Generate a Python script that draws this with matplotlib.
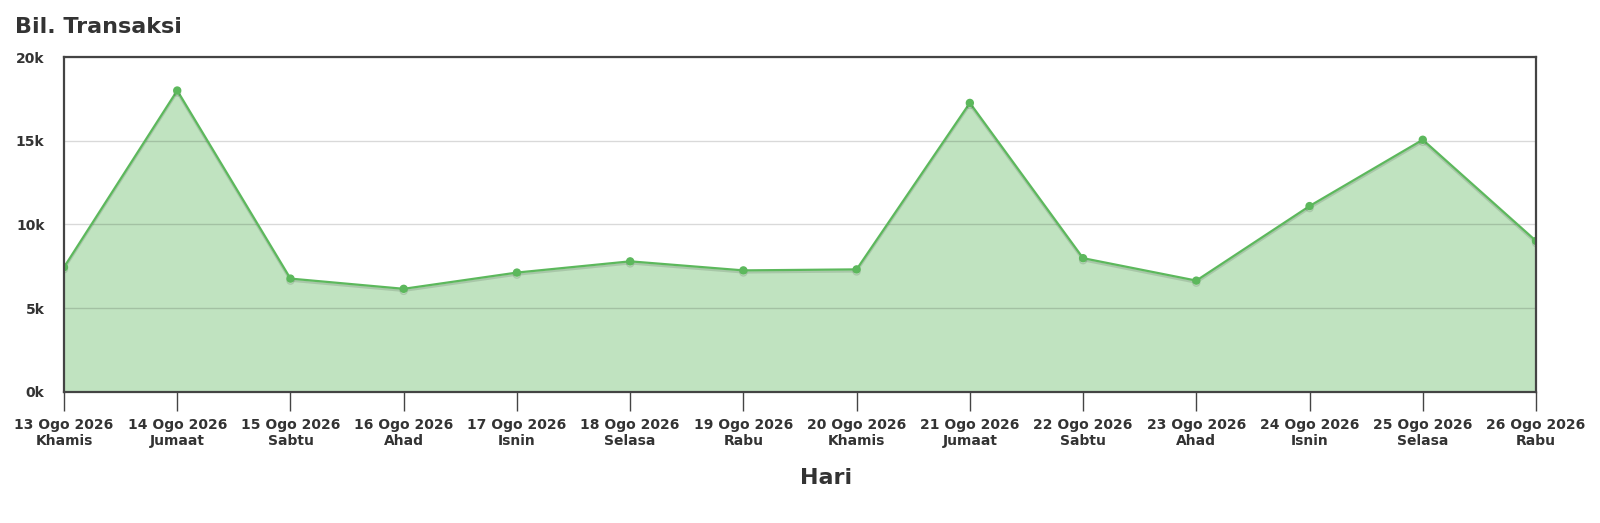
import matplotlib
matplotlib.use("Agg")
import matplotlib.pyplot as plt
import matplotlib.patheffects as pe

plt.rcParams["font.family"] = ["DejaVu Sans"]

dates = ["13 Ogo 2026", "14 Ogo 2026", "15 Ogo 2026", "16 Ogo 2026", "17 Ogo 2026",
         "18 Ogo 2026", "19 Ogo 2026", "20 Ogo 2026", "21 Ogo 2026", "22 Ogo 2026",
         "23 Ogo 2026", "24 Ogo 2026", "25 Ogo 2026", "26 Ogo 2026"]
days = ["Khamis", "Jumaat", "Sabtu", "Ahad", "Isnin", "Selasa", "Rabu",
        "Khamis", "Jumaat", "Sabtu", "Ahad", "Isnin", "Selasa", "Rabu"]
transactions = [7450, 18000, 6770, 6160, 7130, 7800, 7260, 7320, 17260, 7990,
                6650, 11100, 15060, 9020]
y_ticks = [0, 5000, 10000, 15000, 20000]
y_tick_labels = ["0k", "5k", "10k", "15k", "20k"]

text_color = "#333333"
line_color = "#5cb85c"
fill_color = "#c0e3c0"

fig = plt.figure(figsize=(16, 5.23), dpi=100)
ax = fig.add_axes([0.04, 0.2505, 0.92, 0.6405])

x = list(range(len(transactions)))
ax.fill_between(x, transactions, 0, color=fill_color, zorder=1, linewidth=0)
ax.plot(x, transactions, color=line_color, linewidth=1.6, marker="o", markersize=5,
        zorder=3,
        path_effects=[pe.SimpleLineShadow(offset=(0, -1.5), shadow_color="black", alpha=0.12),
                      pe.Normal()])

ax.set_xlim(0, len(transactions) - 1)
ax.set_ylim(0, 20000)
ax.set_yticks(y_ticks)
ax.set_yticklabels(y_tick_labels)
ax.set_xticks(x)
ax.set_xticklabels([f"{d}\n{w}" for d, w in zip(dates, days)], linespacing=1.15)

ax.grid(axis="y", color="black", alpha=0.15, linewidth=1)
for gl in ax.get_ygridlines():
    gl.set_zorder(2)

for s in ax.spines.values():
    s.set_color("#444444")
    s.set_linewidth(1.6)
    s.set_zorder(4)

ax.tick_params(axis="y", length=0, pad=14, labelsize=10, labelcolor=text_color)
ax.tick_params(axis="x", length=14, width=1, color="#444444", pad=5, labelsize=10,
               labelcolor=text_color)
for lab in ax.get_xticklabels() + ax.get_yticklabels():
    lab.set_fontweight("bold")

fig.text(15 / 1600, 1 - 27 / 523, "Bil. Transaksi", fontsize=16, fontweight="bold",
         color=text_color, ha="left", va="center")
fig.text(826 / 1600, 1 - 478 / 523, "Hari", fontsize=16, fontweight="bold",
         color=text_color, ha="center", va="center")

fig.savefig("out.png", dpi=100, facecolor="white")
